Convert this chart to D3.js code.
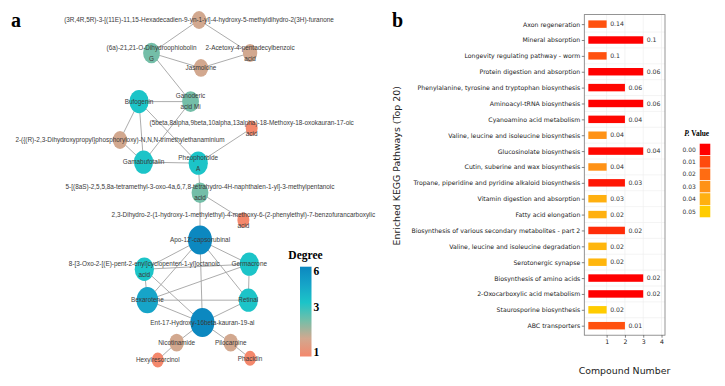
<!DOCTYPE html>
<html>
<head>
<meta charset="utf-8">
<script src="https://cdn.jsdelivr.net/npm/d3@7"></script>
<style>
  html, body { margin: 0; padding: 0; background: #fff; }
  svg { display: block; }
</style>
</head>
<body>
<svg id="canvas"></svg>
<script>
(() => {

    const WIDTH = 725;
    const HEIGHT = 386;

    // ---- panel a: compound network ----
    const nodeIds = ["furanone", "ophiobolin", "acetoxy", "jasmolone", "ganoderic", "bufogenin",
        "kauranoic", "trimethyl", "gamabufotalin", "pheophorbide", "pentanoic", "benzofuran",
        "apo", "octanoic", "germacrone", "bexarotene", "retinal", "ent17",
        "nicotinamide", "pilocarpine", "hexylresorcinol", "phacidin"];
    const nodeLabels = [
        ["(3R,4R,5R)-3-[(11E)-11,15-Hexadecadien-9-yn-1-yl]-4-hydroxy-5-methyldihydro-2(3H)-furanone"],
        ["(6a)-21,21-O-Dihydroophiobolin", "G"],
        ["2-Acetoxy-4-pentadecylbenzoic", "acid"],
        ["Jasmolone"],
        ["Ganoderic", "acid Mi"],
        ["Bufogenin"],
        ["(5beta,8alpha,9beta,10alpha,13alpha)-18-Methoxy-18-oxokauran-17-oic", "acid"],
        ["2-({(R)-2,3-Dihydroxypropyl}phosphoryloxy)-N,N,N-trimethylethanaminium"],
        ["Gamabufotalin"],
        ["Pheophorbide", "A"],
        ["5-[(8aS)-2,5,5,8a-tetramethyl-3-oxo-4a,6,7,8-tetrahydro-4H-naphthalen-1-yl]-3-methylpentanoic", "acid"],
        ["2,3-Dihydro-2-(1-hydroxy-1-methylethyl)-4-methoxy-6-(2-phenylethyl)-7-benzofurancarboxylic", "acid"],
        ["Apo-12'-capsorubinal"],
        ["8-[3-Oxo-2-[(E)-pent-2-enyl]cyclopenten-1-yl]octanoic", "acid"],
        ["Germacrone"],
        ["Bexarotene"],
        ["Retinal"],
        ["Ent-17-Hydroxy-16beta-kauran-19-al"],
        ["Nicotinamide"],
        ["Pilocarpine"],
        ["Hexylresorcinol"],
        ["Phacidin"]
    ];
    // layout coordinates (0-100 units)
    const layoutX = [61.9, 32.2, 93.8, 63.1, 56.6, 24.4, 94.8, 12.5, 27.2, 61.4, 62.5, 89.6,
        62.5, 27.7, 93.3, 29.6, 92.7, 64.0, 47.9, 81.7, 36.1, 93.8];
    const layoutY = [0, 9.7, 9.7, 14.1, 24.0, 24.0, 31.8, 35.3, 41.8, 42.1, 50.8, 58.8,
        64.7, 73.3, 71.8, 82.4, 82.4, 89.0, 94.9, 94.9, 100, 99.5];
    const edgeList = [
        ["furanone", "ophiobolin"], ["furanone", "acetoxy"], ["ophiobolin", "jasmolone"],
        ["jasmolone", "acetoxy"], ["ophiobolin", "ganoderic"], ["bufogenin", "ganoderic"],
        ["bufogenin", "trimethyl"], ["bufogenin", "gamabufotalin"], ["bufogenin", "pheophorbide"],
        ["ganoderic", "gamabufotalin"], ["trimethyl", "gamabufotalin"], ["gamabufotalin", "pheophorbide"],
        ["pheophorbide", "kauranoic"], ["pheophorbide", "pentanoic"], ["pentanoic", "benzofuran"],
        ["pentanoic", "apo"], ["apo", "octanoic"], ["apo", "germacrone"], ["apo", "bexarotene"],
        ["apo", "retinal"], ["apo", "ent17"], ["octanoic", "germacrone"], ["octanoic", "bexarotene"],
        ["octanoic", "ent17"], ["germacrone", "bexarotene"], ["germacrone", "retinal"],
        ["bexarotene", "retinal"], ["bexarotene", "ent17"], ["retinal", "ent17"],
        ["ent17", "nicotinamide"], ["ent17", "pilocarpine"], ["nicotinamide", "hexylresorcinol"],
        ["pilocarpine", "phacidin"]
    ];
    const degreeLevels = [1, 2, 3, 4, 5, 6];
    const degreeColors = ["#f4886c", "#d2a88f", "#74bea8", "#1cc4c8", "#16a4c8", "#0c88c0"];
    const degreeTicks = [1, 3, 6];

    // ---- panel b: KEGG enrichment ----
    const pathways = ["Axon regeneration", "Mineral absorption", "Longevity regulating pathway - worm",
        "Protein digestion and absorption", "Phenylalanine, tyrosine and tryptophan biosynthesis",
        "Aminoacyl-tRNA biosynthesis", "Cyanoamino acid metabolism",
        "Valine, leucine and isoleucine biosynthesis", "Glucosinolate biosynthesis",
        "Cutin, suberine and wax biosynthesis", "Tropane, piperidine and pyridine alkaloid biosynthesis",
        "Vitamin digestion and absorption", "Fatty acid elongation",
        "Biosynthesis of various secondary metabolites - part 2",
        "Valine, leucine and isoleucine degradation", "Serotonergic synapse",
        "Biosynthesis of amino acids", "2-Oxocarboxylic acid metabolism",
        "Staurosporine biosynthesis", "ABC transporters"];
    const compoundCounts = [1, 3, 1, 3, 2, 3, 2, 1, 3, 1, 2, 1, 1, 2, 1, 1, 3, 3, 1, 2];
    const valueLabels = ["0.14", "0.1", "0.1", "0.06", "0.06", "0.06", "0.04", "0.04", "0.04", "0.04",
        "0.03", "0.03", "0.02", "0.02", "0.02", "0.02", "0.02", "0.02", "0.02", "0.01"];
    const pValues = [0.012, 0, 0.012, 0, 0.001, 0, 0.001, 0.03, 0.001, 0.03,
        0.003, 0.04, 0.04, 0.006, 0.042, 0.042, 0, 0, 0.05, 0.012];
    const pLevels = [0, 0.01, 0.02, 0.03, 0.04, 0.05];
    const pColors = ["#ff0000", "#ff4a0e", "#ff6c12", "#ff9216", "#ffb010", "#ffcc00"];
    const xTicks = [1, 2, 3, 4];

    let svg = d3.select("#canvas")
        .attr("width", WIDTH)
        .attr("height", HEIGHT);

    // ================= panel a =================
    let netX = d3.scaleLinear().domain([0, 100]).range([100, 260]);
    let netY = d3.scaleLinear().domain([0, 100]).range([20, 360]);
    let degreeColor = d3.scaleLinear().domain(degreeLevels).range(degreeColors);
    let rxScale = d3.scaleLinear().domain([1, 6]).range([6, 12]);
    let ryScale = d3.scaleLinear().domain([1, 6]).range([7.5, 14.5]);

    let nodes = nodeIds.map((id, i) => ({
        id: id,
        lines: nodeLabels[i],
        x: netX(layoutX[i]),
        y: netY(layoutY[i]),
        degree: 0
    }));
    let nodeById = new Map(nodes.map(d => [d.id, d]));
    let links = edgeList.map(e => ({ source: nodeById.get(e[0]), target: nodeById.get(e[1]) }));
    links.forEach(l => { l.source.degree++; l.target.degree++; });

    svg.append("text")
        .attr("x", 11).attr("y", 27)
        .attr("font-family", "Liberation Serif, serif")
        .attr("font-weight", "bold")
        .attr("font-size", 20)
        .text("a");

    let net = svg.append("g").attr("class", "network");

    net.selectAll("line.edge")
        .data(links)
        .enter().append("line")
        .attr("class", "edge")
        .attr("x1", d => d.source.x).attr("y1", d => d.source.y)
        .attr("x2", d => d.target.x).attr("y2", d => d.target.y)
        .attr("stroke", "#a3a3a3")
        .attr("stroke-width", 0.9);

    net.selectAll("ellipse.node")
        .data(nodes)
        .enter().append("ellipse")
        .attr("class", "node")
        .attr("cx", d => d.x).attr("cy", d => d.y)
        .attr("rx", d => rxScale(d.degree))
        .attr("ry", d => ryScale(d.degree))
        .attr("fill", d => degreeColor(d.degree));

    let labels = net.selectAll("text.label")
        .data(nodes)
        .enter().append("text")
        .attr("class", "label")
        .attr("text-anchor", "middle")
        .attr("font-family", "Liberation Sans, Arial, sans-serif")
        .attr("font-size", 6.4)
        .attr("fill", "#3a3a3a");
    labels.selectAll("tspan")
        .data(d => d.lines.map((t, i) => ({ t: t, i: i, n: d.lines.length, x: d.x, y: d.y })))
        .enter().append("tspan")
        .attr("x", d => d.x)
        .attr("y", d => d.n === 1 ? d.y + 2.2 : d.y + 2.2 + (d.i === 0 ? -5.6 : 5.4))
        .text(d => d.t);

    // degree legend
    let legTop = 266.7, legBottom = 356.5;
    let gradient = svg.append("defs").append("linearGradient")
        .attr("id", "degreeGradient")
        .attr("x1", 0).attr("y1", 0).attr("x2", 0).attr("y2", 1);
    gradient.selectAll("stop")
        .data(degreeLevels.slice().reverse())
        .enter().append("stop")
        .attr("offset", d => (6 - d) / 5)
        .attr("stop-color", d => degreeColor(d));
    svg.append("rect")
        .attr("x", 300).attr("y", legTop)
        .attr("width", 11.5).attr("height", legBottom - legTop)
        .attr("fill", "url(#degreeGradient)");
    svg.append("text")
        .attr("x", 305.5).attr("y", 258.5)
        .attr("text-anchor", "middle")
        .attr("font-family", "Liberation Serif, serif")
        .attr("font-weight", "bold")
        .attr("font-size", 11.5)
        .text("Degree");
    let tickY = d3.scaleLinear().domain([1, 3, 6]).range([351.7, 306.7, 271]);
    svg.selectAll("text.degtick")
        .data(degreeTicks)
        .enter().append("text")
        .attr("class", "degtick")
        .attr("x", 313.5)
        .attr("y", d => tickY(d) + 4)
        .attr("font-family", "Liberation Serif, serif")
        .attr("font-weight", "bold")
        .attr("font-size", 11.5)
        .text(d => d);

    // ================= panel b =================
    const PANEL_LEFT = 584.3, PANEL_RIGHT = 665, PANEL_TOP = 14.6, PANEL_BOTTOM = 335.2;
    const SANS = "DejaVu Sans, sans-serif";

    let x = d3.scaleLinear().domain([-0.22, 4.19]).range([PANEL_LEFT, PANEL_RIGHT]);
    let y = d3.scalePoint().domain(pathways).range([PANEL_TOP, PANEL_BOTTOM]).padding(0.6);
    let pColor = d3.scaleLinear().domain(pLevels).range(pColors);
    let step = y.step();
    let barHeight = step * 0.47;

    svg.append("text")
        .attr("x", 392).attr("y", 27.3)
        .attr("font-family", "Liberation Serif, serif")
        .attr("font-weight", "bold")
        .attr("font-size", 20)
        .text("b");

    let panel = svg.append("g").attr("class", "bars");

    // grid
    panel.selectAll("line.vgrid")
        .data(xTicks)
        .enter().append("line")
        .attr("x1", d => x(d)).attr("x2", d => x(d))
        .attr("y1", PANEL_TOP).attr("y2", PANEL_BOTTOM)
        .attr("stroke", "#ebebeb").attr("stroke-width", 0.6);
    panel.selectAll("line.hgrid")
        .data(pathways.slice(1))
        .enter().append("line")
        .attr("x1", PANEL_LEFT).attr("x2", PANEL_RIGHT)
        .attr("y1", d => y(d) - step / 2).attr("y2", d => y(d) - step / 2)
        .attr("stroke", "#ededed").attr("stroke-width", 0.6);

    let rows = pathways.map((p, i) => ({
        name: p, count: compoundCounts[i], label: valueLabels[i], p: pValues[i]
    }));

    panel.selectAll("rect.bar")
        .data(rows)
        .enter().append("rect")
        .attr("class", "bar")
        .attr("x", x(0))
        .attr("y", d => y(d.name) - barHeight / 2)
        .attr("width", d => x(d.count) - x(0))
        .attr("height", barHeight)
        .attr("fill", d => pColor(d.p));

    panel.selectAll("text.value")
        .data(rows)
        .enter().append("text")
        .attr("class", "value")
        .attr("x", d => x(d.count) + 3.5)
        .attr("y", d => y(d.name) + 2.2)
        .attr("font-family", SANS)
        .attr("font-size", 6.2)
        .attr("fill", "#333")
        .text(d => d.label);

    // border
    panel.append("rect")
        .attr("x", PANEL_LEFT).attr("y", PANEL_TOP)
        .attr("width", PANEL_RIGHT - PANEL_LEFT).attr("height", PANEL_BOTTOM - PANEL_TOP)
        .attr("fill", "none").attr("stroke", "#7a7a7a").attr("stroke-width", 0.8);

    let yAxis = svg.append("g")
        .attr("transform", `translate(${PANEL_LEFT},0)`)
        .call(d3.axisLeft(y).tickSize(2.5).tickPadding(1.5));
    yAxis.select(".domain").remove();
    yAxis.selectAll("line").attr("stroke", "#333").attr("stroke-width", 0.6);
    yAxis.selectAll("text")
        .attr("font-family", SANS)
        .attr("font-size", 6.2)
        .attr("fill", "#222");

    let xAxis = svg.append("g")
        .attr("transform", `translate(0,${PANEL_BOTTOM})`)
        .call(d3.axisBottom(x).tickValues(xTicks).tickFormat(d3.format("d")).tickSize(2.5).tickPadding(2));
    xAxis.select(".domain").remove();
    xAxis.selectAll("line").attr("stroke", "#333").attr("stroke-width", 0.6);
    xAxis.selectAll("text")
        .attr("font-family", SANS)
        .attr("font-size", 6.2)
        .attr("fill", "#222");

    svg.append("text")
        .attr("x", 624.5).attr("y", 374)
        .attr("text-anchor", "middle")
        .attr("font-family", SANS)
        .attr("font-size", 9.4)
        .attr("fill", "#222")
        .text("Compound Number");

    svg.append("text")
        .attr("transform", `translate(400,165.8) rotate(-90)`)
        .attr("text-anchor", "middle")
        .attr("font-family", SANS)
        .attr("font-size", 9.4)
        .attr("fill", "#222")
        .text("Enriched KEGG Pathways (Top 20)");

    // p value legend
    let pLegend = svg.append("g").attr("class", "p-legend");
    let pTitle = pLegend.append("text")
        .attr("x", 696.7).attr("y", 135.5)
        .attr("text-anchor", "middle")
        .attr("font-family", "Liberation Serif, serif")
        .attr("font-weight", "bold")
        .attr("font-size", 7.4);
    pTitle.append("tspan").attr("font-style", "italic").text("P.");
    pTitle.append("tspan").text(" Value");

    let swatchY = d3.scaleBand().domain(pLevels).range([143.3, 217.7]);
    pLegend.selectAll("rect")
        .data(pLevels)
        .enter().append("rect")
        .attr("x", 699.3)
        .attr("y", d => swatchY(d))
        .attr("width", 11.4)
        .attr("height", swatchY.bandwidth())
        .attr("fill", d => pColor(d))
        .attr("stroke", "#fff")
        .attr("stroke-width", 0.6);
    pLegend.selectAll("text.plab")
        .data(pLevels)
        .enter().append("text")
        .attr("class", "plab")
        .attr("x", 682.5)
        .attr("y", d => swatchY(d) + swatchY.bandwidth() / 2 + 2.1)
        .attr("font-family", SANS)
        .attr("font-size", 6)
        .attr("fill", "#333")
        .text(d => d.toFixed(2));

})();
</script>
</body>
</html>
